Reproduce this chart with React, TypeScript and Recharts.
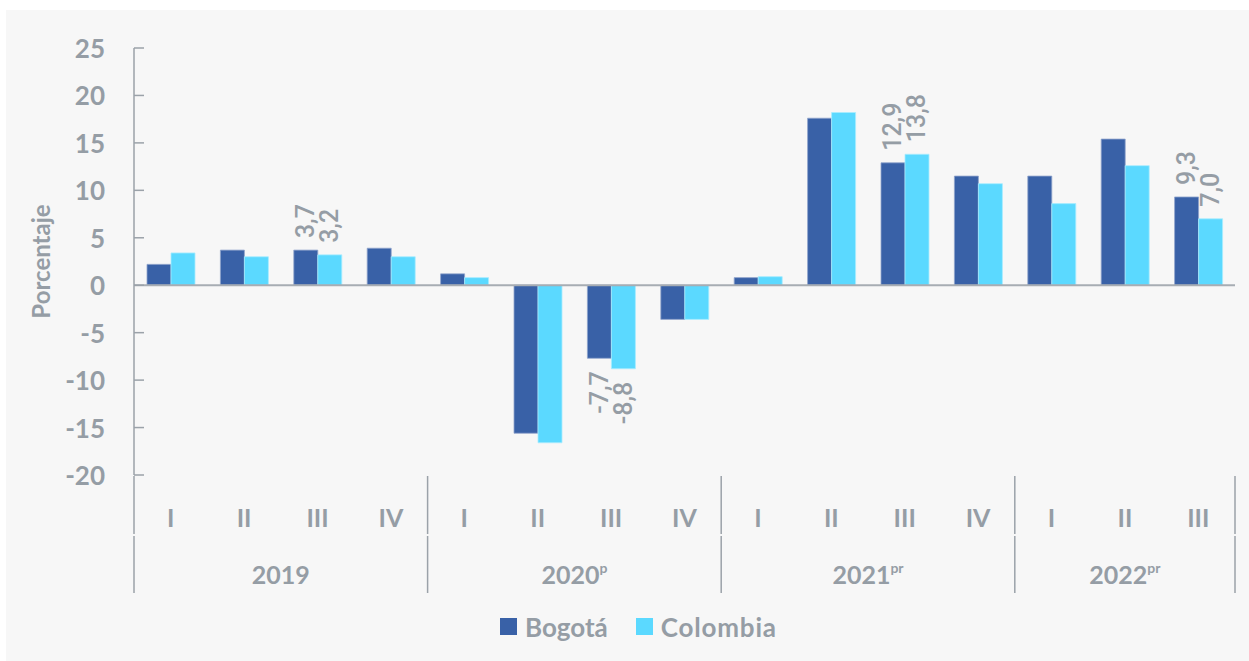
import React from 'react';
import { BarChart, Bar, XAxis, YAxis, ReferenceLine, Legend, LabelList } from 'recharts';

const quarters = ['I', 'II', 'III', 'IV', 'I', 'II', 'III', 'IV', 'I', 'II', 'III', 'IV', 'I', 'II', 'III'];
const years = ['2019', '2019', '2019', '2019', '2020', '2020', '2020', '2020', '2021', '2021', '2021', '2021', '2022', '2022', '2022'];
const yearNames = ['2019', '2020', '2021', '2022'];
const yearSuffix = ['', 'p', 'pr', 'pr'];
const bogota = [2.2, 3.7, 3.7, 3.9, 1.2, -15.6, -7.7, -3.6, 0.8, 17.6, 12.9, 11.5, 11.5, 15.4, 9.3];
const colombia = [3.4, 3.0, 3.2, 3.0, 0.8, -16.6, -8.8, -3.6, 0.9, 18.2, 13.8, 10.7, 8.6, 12.6, 7.0];
const labelledIdx = [2, 6, 10, 14];
const yTicks = [-20, -15, -10, -5, 0, 5, 10, 15, 20, 25];

const data = quarters.map((q, i) => ({ q, year: years[i], bogota: bogota[i], colombia: colombia[i] }));

const CHART_W = 1243;
const CHART_H = 651;
const MARGIN = { top: 38, right: 14, left: 0, bottom: 0 };
const Y_W = 128;
const BAND = (CHART_W - MARGIN.left - MARGIN.right - Y_W) / quarters.length;

const FONT = 'Lato, "Noto Sans", sans-serif';
const LABEL_FONT = 'Roboto, "Noto Sans", sans-serif';
const GRAY = '#959da5';
const AXIS = '#9ba2a9';
const C_BOG = '#3961a7';
const C_COL = '#5bd9ff';

const YTick = (props: any) => {
  const { x, y, payload } = props;
  return (
    <g>
      <line x1={x} x2={x + 10} y1={y} y2={y} stroke={AXIS} strokeWidth={1.5} />
      <text x={x - 29} y={y} textAnchor="end" dominantBaseline="central" fill={GRAY} fontFamily={FONT} fontWeight={700} fontSize={26}>
        {payload.value}
      </text>
    </g>
  );
};

const XTick = (props: any) => {
  const { x, y, payload, index } = props;
  const yr = years[index];
  const first = index === 0 || years[index - 1] !== yr;
  const last = index === years.length - 1;
  const groupLen = years.filter((v) => v === yr).length;
  const gi = yearNames.indexOf(yr);
  const left = x - BAND / 2;
  const sep = (sx: number) => (
    <g>
      <line x1={sx} x2={sx} y1={y + 1} y2={y + 59} stroke={AXIS} strokeWidth={1.5} />
      <line x1={sx} x2={sx} y1={y + 61} y2={y + 118} stroke={AXIS} strokeWidth={1.5} />
    </g>
  );
  return (
    <g>
      <text x={x} y={y + 42} textAnchor="middle" dominantBaseline="central" fill={GRAY} fontFamily={FONT} fontWeight={700} fontSize={25}>
        {payload.value}
      </text>
      {first && sep(left)}
      {last && sep(x + BAND / 2)}
      {first && (
        <text x={left + (groupLen * BAND) / 2} y={y + 99} textAnchor="middle" dominantBaseline="central" fill={GRAY} fontFamily={FONT} fontWeight={700} fontSize={25}>
          {yr}
          {yearSuffix[gi] && (
            <tspan fontSize={14} dy={-7}>{yearSuffix[gi]}</tspan>
          )}
        </text>
      )}
    </g>
  );
};

const makeLabel = (props: any) => {
  const { x, y, width, height, value, index } = props;
  if (!labelledIdx.includes(index)) return null;
  const cx = x + width / 2;
  const top = Math.min(y, y + height);
  const bottom = Math.max(y, y + height);
  const pos = value >= 0;
  const ty = pos ? top - 12 : bottom + 13;
  return (
    <text
      x={cx}
      y={ty}
      transform={`rotate(-90 ${cx} ${ty})`}
      textAnchor={pos ? 'start' : 'end'}
      dominantBaseline="central"
      fill={GRAY}
      fontFamily={LABEL_FONT}
      fontWeight={500}
      fontSize={25}
    >
      {String(value.toFixed(1)).replace('.', ',')}
    </text>
  );
};

const LegendContent = () => (
  <div style={{ height: 66, display: 'flex', alignItems: 'center', paddingLeft: 494, paddingBottom: 3, boxSizing: 'border-box', fontFamily: FONT, fontWeight: 700, fontSize: 26, color: GRAY }}>
    <span style={{ display: 'inline-block', width: 17, height: 17, background: C_BOG, marginRight: 8 }} />
    <span style={{ marginRight: 28 }}>Bogotá</span>
    <span style={{ display: 'inline-block', width: 17, height: 17, background: C_COL, marginRight: 8 }} />
    <span style={{ letterSpacing: 0.8 }}>Colombia</span>
  </div>
);

export default function App() {
  return (
    <div style={{ position: 'absolute', left: 6, top: 10, width: CHART_W, height: CHART_H, background: '#f7f7f7' }}>
      <BarChart width={CHART_W} height={CHART_H} data={data} margin={MARGIN} barSize={24} barGap={0}>
        <XAxis
          dataKey="q"
          type="category"
          interval={0}
          axisLine={false}
          tickLine={false}
          tickSize={0}
          tickMargin={0}
          height={120}
          tick={XTick}
        />
        <YAxis
          domain={[-20, 25]}
          ticks={yTicks}
          interval={0}
          width={Y_W}
          axisLine={{ stroke: AXIS, strokeWidth: 1.5 }}
          tickLine={false}
          tickSize={0}
          tickMargin={0}
          tick={YTick}
          label={(p: any) => {
            const vb = p.viewBox || { x: 0, y: MARGIN.top, height: 427 };
            const cx = vb.x + 34;
            const cy = vb.y + vb.height / 2;
            return (
              <text x={cx} y={cy} transform={`rotate(-90 ${cx} ${cy})`} textAnchor="middle" dominantBaseline="central" fill={GRAY} fontFamily={FONT} fontWeight={700} fontSize={24}>
                Porcentaje
              </text>
            );
          }}
        />
        <Legend verticalAlign="bottom" content={LegendContent} wrapperStyle={{ height: 66 }} />
        <Bar dataKey="bogota" name="Bogotá" fill={C_BOG} stroke="#8fa3cc" strokeWidth={0.8} isAnimationActive={false}>
          <LabelList dataKey="bogota" content={makeLabel} />
        </Bar>
        <Bar dataKey="colombia" name="Colombia" fill={C_COL} stroke="#a8ecff" strokeWidth={0.8} isAnimationActive={false}>
          <LabelList dataKey="colombia" content={makeLabel} />
        </Bar>
        <ReferenceLine y={0} stroke="#a7adb3" strokeWidth={2} />
      </BarChart>
    </div>
  );
}
